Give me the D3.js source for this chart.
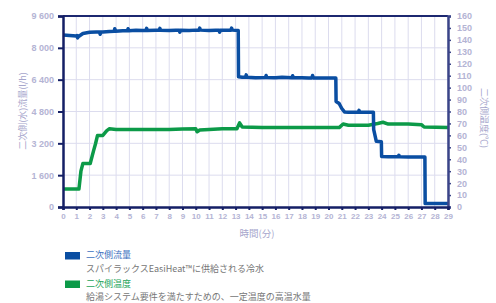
<!DOCTYPE html>
<html>
<head>
<meta charset="utf-8" />
<style>
  html, body { margin: 0; padding: 0; background: #fff; }
  svg { font-family: "Noto Sans CJK JP", "Noto Sans", sans-serif; }
  .grid line { stroke: #dcdcee; stroke-width: 1; }
  .tick text { fill: #b4b4d4; font-size: 8.5px; font-weight: bold; }
  .axt { fill: #a6a6cc; font-size: 9px; }
  .leg { font-size: 9px; }
</style>
</head>
<body>
<div id="vis"></div>
<script src="https://d3js.org/d3.v7.min.js"></script>
<script>
  // time (min) and secondary flow (l/h)
  var flowTime = [0, 0.5, 1.0, 1.05, 1.1, 1.15, 1.2, 1.5, 2.0, 2.5, 2.75, 2.8, 2.85, 3.0, 3.5, 3.85, 3.9, 3.95, 4.5, 4.85, 4.9, 4.95, 5.5, 6, 6.25, 6.3, 6.35, 7, 7.25, 7.3, 7.35, 8, 8.5, 8.75, 8.8, 8.85, 9.5, 10, 10.25, 10.3, 10.35, 11, 11.5, 11.75, 11.8, 11.85, 12.5, 12.65, 12.7, 12.75, 13.2,
                  13.22, 13.5, 13.75, 13.8, 13.85, 14.5, 15.25, 15.3, 15.35, 16, 16.5, 17.25, 17.3, 17.35, 18, 18.5, 18.75, 18.8, 18.85, 19.5, 20, 20.55,
                  20.57, 20.8, 21.0, 21.2, 21.5, 22, 22.25, 22.3, 22.35, 23, 23.38,
                  23.4, 23.6, 23.98, 24.0, 24.5, 25, 25.25, 25.3, 25.35, 26, 27.26, 27.28, 29];
  var flowVal  = [8640, 8620, 8600, 8620, 8500, 8600, 8580, 8720, 8780, 8800, 8790, 8680, 8790, 8800, 8820, 8830, 8960, 8830, 8860, 8860, 8960, 8860, 8880, 8870, 8870, 8980, 8870, 8880, 8880, 8980, 8880, 8870, 8880, 8880, 8790, 8880, 8870, 8890, 8890, 8990, 8890, 8870, 8880, 8880, 8790, 8880, 8890, 8890, 8990, 8890, 8870,
                  6550, 6520, 6520, 6640, 6520, 6500, 6510, 6610, 6510, 6500, 6520, 6500, 6600, 6500, 6500, 6490, 6490, 6610, 6490, 6490, 6480, 6480,
                  5300, 5200, 4950, 4780, 4760, 4760, 4760, 4860, 4760, 4760, 4760,
                  3900, 3300, 3280, 2540, 2520, 2520, 2520, 2600, 2520, 2510, 2510, 170, 170];

  // time (min) and secondary temperature (°C)
  var tempTime = [0, 1.2, 1.35, 1.5, 2.05, 2.3, 2.45, 2.6, 3.0, 3.3, 3.5, 4, 5, 6, 7, 8, 9, 10, 10.1, 10.3, 11, 12, 13.1, 13.3, 13.5, 15, 17, 19, 20.8, 21.1, 21.5, 23, 23.7, 24.1, 24.5, 26, 27, 27.2, 29];
  var tempVal  = [15, 15, 30, 36.5, 36.5, 47, 53, 60, 60, 64, 65.5, 65, 65, 65, 65, 65, 65.3, 65.5, 63, 64.5, 65, 65.5, 65.5, 70.5, 67, 66.5, 66.5, 66.5, 66.5, 69.5, 68.5, 68.5, 70, 71, 69.5, 69.5, 69, 67, 66.5];

  var flowTicks = [0, 1600, 3200, 4800, 6400, 8000, 9600];
  var tempTicks = d3.range(0, 161, 10);
  var timeTicks = d3.range(0, 30, 1);

  var legendItems = [
    { name: "二次側流量", desc: "スパイラックスEasiHeat™に供給される冷水", color: "#0a4ea2", text: "#3c70c0" },
    { name: "二次側温度", desc: "給湯システム要件を満たすための、一定温度の高温水量", color: "#0c9a48", text: "#22a458" }
  ];

  var W = 496, H = 303;
  var L = 63, R = 448, T = 16, B = 207;

  var svg = d3.select("#vis").append("svg").attr("width", W).attr("height", H);

  var x = d3.scaleLinear().domain([0, 29]).range([L, R]);
  var yL = d3.scaleLinear().domain([0, 9600]).range([B, T]);
  var yR = d3.scaleLinear().domain([0, 160]).range([B, T]);

  // grid
  var grid = svg.append("g").attr("class", "grid");
  grid.selectAll(".gv").data(timeTicks.slice(1)).enter().append("line")
    .attr("x1", function(d) { return x(d); }).attr("x2", function(d) { return x(d); })
    .attr("y1", T).attr("y2", B);
  grid.selectAll(".gh").data(flowTicks.slice(1)).enter().append("line")
    .attr("x1", L).attr("x2", R)
    .attr("y1", function(d) { return yL(d); }).attr("y2", function(d) { return yL(d); });

  // lines
  var flowLine = d3.line().x(function(d) { return x(d[0]); }).y(function(d) { return yL(d[1]); });
  var tempLine = d3.line().x(function(d) { return x(d[0]); }).y(function(d) { return yR(d[1]); });

  svg.append("path").datum(d3.zip(tempTime, tempVal))
    .attr("d", tempLine).attr("fill", "none").attr("stroke", legendItems[1].color)
    .attr("stroke-width", 3.5).attr("stroke-linejoin", "round");
  svg.append("path").datum(d3.zip(flowTime, flowVal))
    .attr("d", flowLine).attr("fill", "none").attr("stroke", legendItems[0].color)
    .attr("stroke-width", 3.5).attr("stroke-linejoin", "round");

  // top border
  svg.append("line").attr("x1", L).attr("x2", R).attr("y1", T).attr("y2", T)
    .attr("stroke", "#1c2870").attr("stroke-width", 2);

  // axes
  var fmt = function(d) { return d3.format(",")(d).replace(",", " "); };
  var axL = svg.append("g").attr("transform", "translate(" + L + ",0)")
    .call(d3.axisLeft(yL).tickValues(flowTicks).tickFormat(fmt).tickSize(5).tickPadding(4));
  var axR = svg.append("g").attr("transform", "translate(" + R + ",0)")
    .call(d3.axisRight(yR).tickValues(tempTicks).tickSize(3).tickPadding(6));
  var axB = svg.append("g").attr("transform", "translate(0," + B + ")")
    .call(d3.axisBottom(x).tickValues(timeTicks).tickSize(3).tickPadding(3));

  [axL, axB].forEach(function(a) {
    a.select(".domain").attr("stroke", "#141f66").attr("stroke-width", 2.5);
    a.selectAll(".tick line").attr("stroke", "#141f66").attr("stroke-width", 2);
  });
  axR.select(".domain").attr("stroke", "#3a4488").attr("stroke-width", 2.5);
  axR.selectAll(".tick line").attr("stroke", "#3a4488").attr("stroke-width", 1.5);
  axL.selectAll(".tick text").style("font-size", "9px");
  axR.selectAll(".tick text").style("font-size", "9px").attr("text-anchor", "start");
  axB.selectAll(".tick text").style("font-size", "8px");

  // axis titles
  svg.append("text").attr("class", "axt")
    .attr("transform", "translate(24,111) rotate(-90)")
    .attr("text-anchor", "middle").attr("dominant-baseline", "middle")
    .text("二次側(水)流量(l/h)");
  svg.append("text").attr("class", "axt")
    .attr("transform", "translate(483,118) rotate(90)")
    .attr("text-anchor", "middle").attr("dominant-baseline", "middle")
    .text("二次側温度(℃)");
  svg.append("text").attr("class", "axt")
    .attr("x", 257).attr("y", 234).attr("text-anchor", "middle").attr("dominant-baseline", "middle")
    .style("font-size", "9.5px").attr("fill", "#9090bc")
    .text("時間(分)");

  // legend
  var leg = svg.append("g").attr("class", "leg");
  legendItems.forEach(function(d, i) {
    var y0 = 252 + i * 28.5;
    leg.append("rect").attr("x", 65).attr("y", y0).attr("width", 15).attr("height", 7.5).attr("fill", d.color);
    leg.append("text").attr("x", 86).attr("y", y0 + 4).attr("dominant-baseline", "middle")
      .attr("fill", d.text).text(d.name);
    leg.append("text").attr("x", 86).attr("y", y0 + 17.5).attr("dominant-baseline", "middle")
      .attr("fill", "#767676").text(d.desc);
  });
</script>
</body>
</html>
